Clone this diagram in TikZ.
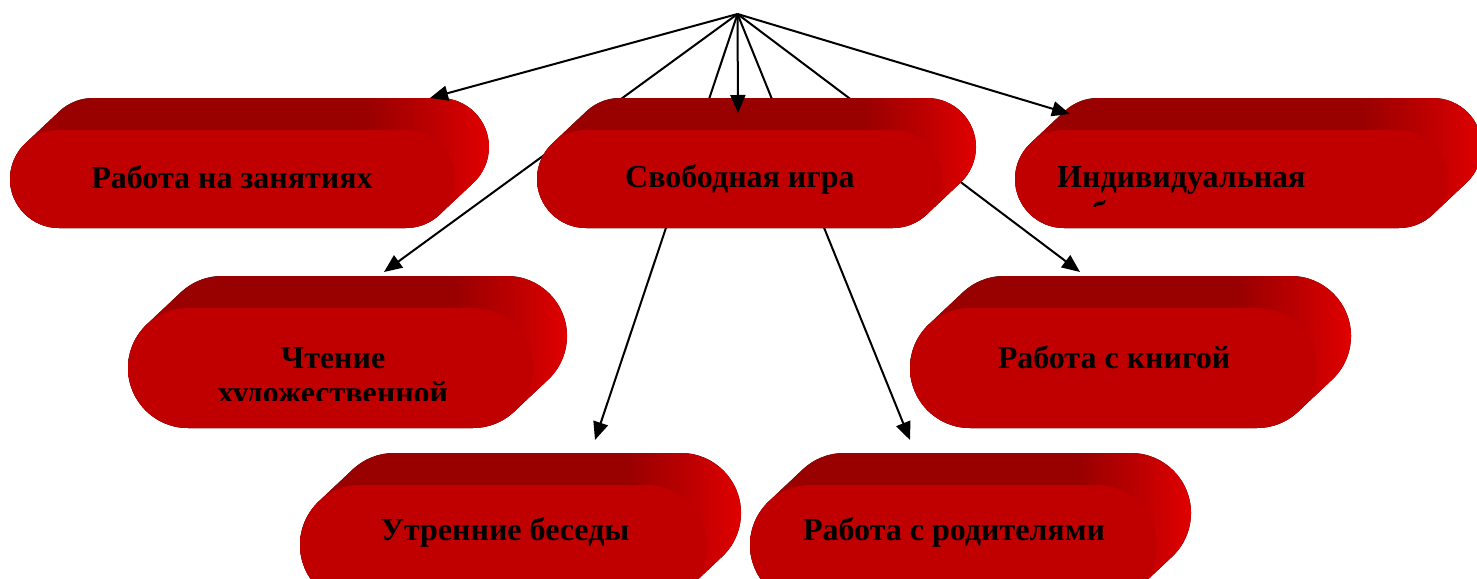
\documentclass[tikz,border=0pt]{standalone}
\usepackage{fontspec}
\setmainfont{Liberation Serif}
\usetikzlibrary{arrows.meta}
\definecolor{frontc}{HTML}{C00000}
\definecolor{darkc}{HTML}{990000}
\definecolor{midc}{HTML}{BC0000}
\definecolor{brightc}{HTML}{E00000}
\pgfdeclarehorizontalshading{extr}{100bp}{color(0bp)=(frontc); color(25bp)=(frontc); color(30bp)=(darkc); color(62bp)=(darkc); color(69bp)=(midc); color(75bp)=(brightc); color(100bp)=(brightc)}
\newcommand\pillbody[4]{%
  \pgfmathsetmacro\pr{(#4-#2)/2}%
  \pgfmathsetmacro\pym{(#2+#4)/2}%
  \pgfmathsetmacro\pxl{#1+\pr}%
  \pgfmathsetmacro\pxr{#3-\pr}%
  \pgfmathsetmacro\pxrb{\pxr+34}%
  \pgfmathsetmacro\pyt{#2-32}%
  \fill[shading=extr] (\pxl,#4) arc[start angle=90,end angle=227.56,radius=\pr]
     -- ++(34,-32) arc[start angle=227.56,end angle=270,radius=\pr]
     -- (\pxrb,\pyt) arc[start angle=270,end angle=407.56,radius=\pr]
     -- ++(-34,32) arc[start angle=407.56,end angle=450,radius=\pr] -- cycle;
  \fill[frontc,rounded corners=\pr pt] (#1,#2) rectangle (#3,#4);
}
\tikzset{
  lbl/.style={inner sep=0pt,anchor=base,text=black,font=\bfseries\fontsize{32}{36}\selectfont},
  conn/.style={line width=2pt,-{Triangle[length=18pt,width=15pt]}}
}
\begin{document}
\begin{tikzpicture}[x=1pt,y=-1pt]
\clip (0,0) rectangle (1477,578);
\fill[white] (0,0) rectangle (1477,578);
\coordinate (P) at (737.5,14);
\coordinate (t1) at (430,98);
\coordinate (t2) at (738,113);
\coordinate (t3) at (1070,114);
\coordinate (t4) at (384,272);
\coordinate (t5) at (1080,272);
\coordinate (t6) at (595,440);
\coordinate (t7) at (910,440);
% connectors behind the pills
\draw[conn] (P) -- (t4);
\draw[conn] (P) -- (t5);
\draw[conn] (P) -- (t6);
\draw[conn] (P) -- (t7);
% pills
\pillbody{10}{130}{455}{228}
\pillbody{537}{130}{942}{228}
\pillbody{1015}{130}{1448}{228}
\pillbody{128}{308}{533}{428}
\pillbody{910}{308}{1317}{428}
\pillbody{300}{485}{707}{605}
\pillbody{750}{485}{1157}{605}
% labels
\node[lbl] (n1) at (232,188) {Работа на занятиях};
\node[lbl] (n2) at (740,187) {Свободная игра};
\node[lbl,anchor=base west] (n3) at (1057,187) {Индивидуальная};
\begin{scope}
  \clip (1040,190) rectangle (1420,206);
  \node[lbl,anchor=base west] (n3b) at (1057,223) {работа};
\end{scope}
\node[lbl] (n4) at (333,368) {Чтение};
\begin{scope}
  \clip (150,380) rectangle (520,400);
  \node[lbl] (n4b) at (333,403) {художественной};
\end{scope}
\node[lbl] (n5) at (1114,368) {Работа с книгой};
\node[lbl] (n6) at (505,540) {Утренние беседы};
\node[lbl] (n7) at (954,540) {Работа с родителями};
% connectors in front
\draw[conn] (P) -- (t1);
\draw[conn] (P) -- (t2);
\draw[conn] (P) -- (t3);
\end{tikzpicture}
\end{document}
